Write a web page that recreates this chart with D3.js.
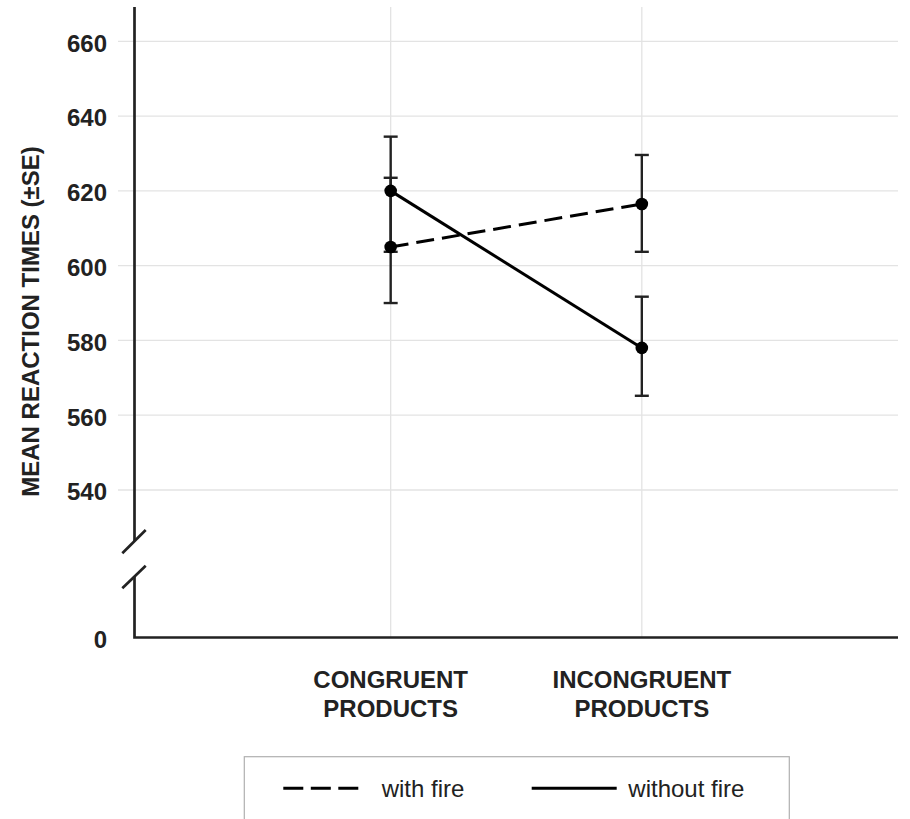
<!DOCTYPE html>
<html><head><meta charset="utf-8">
<script src="https://cdn.jsdelivr.net/npm/d3@7/dist/d3.min.js"></script>
<style>
body{margin:0;background:#fff;}
svg{display:block;font-family:"Liberation Sans",Arial,Helvetica,sans-serif;}
</style></head>
<body><svg id="c" width="910" height="819"></svg>
<script>
const categories = ["CONGRUENT|PRODUCTS", "INCONGRUENT|PRODUCTS"];
const seriesNames = ["with fire", "without fire"];
const withFire = [605, 616.5];
const withFireLow = [590, 603.7];
const withFireHigh = [623.5, 629.6];
const withoutFire = [620, 578];
const withoutFireLow = [603.7, 565.2];
const withoutFireHigh = [634.5, 591.7];
const yTicks = [540, 560, 580, 600, 620, 640, 660];
const zeroTick = [0];

const svg = d3.select("#c");
const ink = "#222";
const grid = "#e3e3e3";

const x = d3.scalePoint().domain(categories).range([134.5, 898]).padding(1.02);
const y = d3.scaleLinear().domain([540, 660]).range([490, 41.3]);
const yZero = d3.scaleLinear().domain([0, 1]).range([637.5, 630]);

// horizontal gridlines
svg.append("g").selectAll("line").data(yTicks).join("line")
  .attr("x1", 118).attr("x2", 898)
  .attr("y1", d => y(d)).attr("y2", d => y(d))
  .attr("stroke", grid).attr("stroke-width", 1.3);
// vertical gridlines
svg.append("g").selectAll("line").data(categories).join("line")
  .attr("x1", d => x(d)).attr("x2", d => x(d))
  .attr("y1", 7).attr("y2", 637)
  .attr("stroke", grid).attr("stroke-width", 1.3);

// y tick labels
svg.append("g").selectAll("text").data(yTicks).join("text")
  .attr("x", 107).attr("y", d => y(d)).attr("dy", "0.43em")
  .attr("text-anchor", "end").attr("font-weight", "bold")
  .attr("font-size", 24).attr("fill", ink).text(d => d);
svg.append("g").selectAll("text").data(zeroTick).join("text")
  .attr("x", 107).attr("y", d => yZero(d)).attr("dy", "0.43em")
  .attr("text-anchor", "end").attr("font-weight", "bold")
  .attr("font-size", 24).attr("fill", ink).text(d => d);

// axes with break
const ax = svg.append("g").attr("stroke", ink).attr("stroke-width", 2.7).attr("fill", "none");
ax.append("line").attr("x1", 134.5).attr("x2", 134.5).attr("y1", 7).attr("y2", 541);
ax.append("line").attr("x1", 122.3).attr("y1", 553.3).attr("x2", 145.7).attr("y2", 530);
ax.append("line").attr("x1", 122.3).attr("y1", 588.3).attr("x2", 145.7).attr("y2", 565.7);
ax.append("path").attr("d", `M134.5,576.5V${yZero(0)}H898`);

// y title
svg.append("text")
  .attr("transform", "translate(39,321.5) rotate(-90)")
  .attr("text-anchor", "middle").attr("font-weight", "bold")
  .attr("font-size", 24).attr("fill", ink)
  .text("MEAN REACTION TIMES (±SE)");

// category labels
const cat = svg.append("g").selectAll("text").data(categories).join("text")
  .attr("text-anchor", "middle").attr("font-weight", "bold")
  .attr("font-size", 24).attr("fill", ink);
cat.each(function(d){
  const parts = d.split("|");
  d3.select(this).selectAll("tspan").data(parts).join("tspan")
    .attr("x", x(d)).attr("y", (p, i) => 688.3 + i * 28.4).text(p => p);
});

const series = [
  {name: seriesNames[0], v: withFire, lo: withFireLow, hi: withFireHigh, dash: "18,8"},
  {name: seriesNames[1], v: withoutFire, lo: withoutFireLow, hi: withoutFireHigh, dash: null}
];

// error bars
series.forEach(s => {
  const g = svg.append("g").attr("stroke", ink).attr("stroke-width", 2.4);
  categories.forEach((c, i) => {
    g.append("line").attr("x1", x(c)).attr("x2", x(c)).attr("y1", y(s.lo[i])).attr("y2", y(s.hi[i]));
    g.append("line").attr("x1", x(c) - 7).attr("x2", x(c) + 7).attr("y1", y(s.lo[i])).attr("y2", y(s.lo[i]));
    g.append("line").attr("x1", x(c) - 7).attr("x2", x(c) + 7).attr("y1", y(s.hi[i])).attr("y2", y(s.hi[i]));
  });
});

// lines and dots
const line = d3.line().x((d, i) => x(categories[i])).y(d => y(d));
series.forEach(s => {
  svg.append("path").datum(s.v).attr("d", line)
    .attr("fill", "none").attr("stroke", "#000").attr("stroke-width", 3)
    .attr("stroke-dasharray", s.dash);
  svg.append("g").selectAll("circle").data(s.v).join("circle")
    .attr("cx", (d, i) => x(categories[i])).attr("cy", d => y(d)).attr("r", 6.3)
    .attr("fill", "#000");
});

// legend
svg.append("rect").attr("x", 244.3).attr("y", 756.7).attr("width", 545).attr("height", 80)
  .attr("fill", "#fff").attr("stroke", "#b0b0b0").attr("stroke-width", 1.2);
const leg = [
  {name: seriesNames[0], x1: 283.3, x2: 360, tx: 381.7, dash: "20,7.5"},
  {name: seriesNames[1], x1: 531.7, x2: 616.7, tx: 628.3, dash: null}
];
leg.forEach(l => {
  svg.append("line").attr("x1", l.x1).attr("x2", l.x2).attr("y1", 788.3).attr("y2", 788.3)
    .attr("stroke", "#000").attr("stroke-width", 3).attr("stroke-dasharray", l.dash);
  svg.append("text").attr("x", l.tx).attr("y", 788.3).attr("dy", "0.36em")
    .attr("font-size", 24).attr("fill", ink).text(l.name);
});
</script></body></html>
